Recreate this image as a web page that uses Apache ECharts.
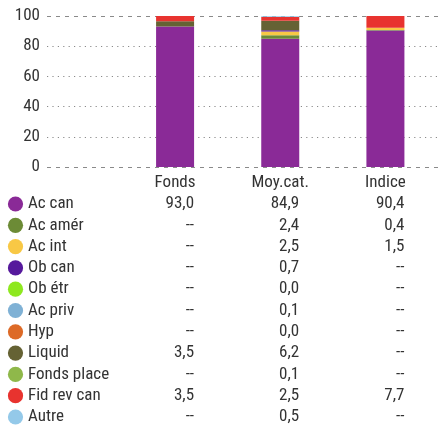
<!DOCTYPE html>
<html><head><meta charset="utf-8">
<script src="https://cdn.jsdelivr.net/npm/echarts@6/dist/echarts.min.js"></script>
<style>html,body{margin:0;padding:0;background:#fff}#c{width:438px;height:427px}</style>
</head><body><div id="c"></div>
<script>
const categories = ['Fonds', 'Moy.cat.', 'Indice'];
const seriesNames = ['Ac can','Ac amér','Ac int','Ob can','Ob étr','Ac priv','Hyp','Liquid','Fonds place','Fid rev can','Autre'];
const fonds  = [93.0, null, null, null, null, null, null, 3.5, null, 3.5, null];
const moycat = [84.9, 2.4, 2.5, 0.7, 0.0, 0.1, 0.0, 6.2, 0.1, 2.5, 0.5];
const indice = [90.4, 0.4, 1.5, null, null, null, null, null, null, 7.7, null];
const colors = ['#8a2a97','#6c8b36','#f8c845','#56199c','#8ee81f','#7fb1d5','#dd6a27','#656234','#8fb84a','#e8332f','#94c9e9'];
const FAM = 'Roboto';
const FS = 17;
const TXT = '#333';
const lbl = (extra) => Object.assign({fontFamily: FAM, fontStyle: 'condensed', fontSize: FS, color: TXT}, extra);

const cols = [fonds, moycat, indice];
const chart = echarts.init(document.getElementById('c'));
const TOP = 16, H = 151;
const series = seriesNames.map((n, i) => ({
  name: n, type: 'bar', stack: 'all', xAxisIndex: 1, yAxisIndex: 1,
  barWidth: 38, itemStyle: {color: colors[i]},
  data: cols.map(c => c[i] == null ? 0 : c[i]),
  silent: true
}));
chart.setOption({
  animation: false,
  grid: [
    {left: 47, right: 0, top: TOP, height: H},
    {left: 122.5, width: 321, top: TOP, height: H},
    {left: 47, right: 0, top: TOP + H * 0.2, height: H * 0.6}
  ],
  xAxis: [
    {type: 'value', gridIndex: 0, show: false},
    {type: 'category', gridIndex: 1, data: categories,
     axisLine: {show: false}, axisTick: {show: false},
     axisLabel: lbl({margin: 7})},
    {type: 'value', gridIndex: 2, show: false}
  ],
  yAxis: [
    {type: 'value', gridIndex: 0, min: 0, max: 100, interval: 100,
     axisLine: {show: false}, axisTick: {show: false},
     axisLabel: lbl({margin: 7}),
     splitLine: {lineStyle: {color: '#8a8a8a', type: [4, 5], width: 1}}},
    {type: 'value', gridIndex: 1, min: 0, max: 100, show: false, splitLine: {show: false}},
    {type: 'value', gridIndex: 2, min: 20, max: 80, interval: 20,
     axisLine: {show: false}, axisTick: {show: false},
     axisLabel: lbl({margin: 7}),
     splitLine: {lineStyle: {color: '#8a8a8a', type: [1.2, 4.2], width: 1}}}
  ],
  series: series
});

// Table below the chart
const fmt = v => v == null ? '--' : v.toFixed(1).replace('.', ',');
const FONTSTR = 'condensed ' + FS + 'px ' + FAM;
const g = [];
const ROW0 = 204, STEP = 21.3;
seriesNames.forEach((n, i) => {
  const y = ROW0 + i * STEP;
  g.push({type: 'circle', shape: {cx: 15.5, cy: y, r: 7.6}, style: {fill: colors[i]}});
  g.push({type: 'text', x: 28, y: y, style: {text: n, font: FONTSTR, fill: TXT, verticalAlign: 'middle', align: 'left'}});
  categories.forEach((c, k) => {
    const px = chart.convertToPixel({xAxisIndex: 1}, c) + 19;
    g.push({type: 'text', x: px, y: y, style: {text: fmt(cols[k][i]), font: FONTSTR, fill: TXT, verticalAlign: 'middle', align: 'right'}});
  });
});
chart.setOption({graphic: {elements: g}});
</script></body></html>
